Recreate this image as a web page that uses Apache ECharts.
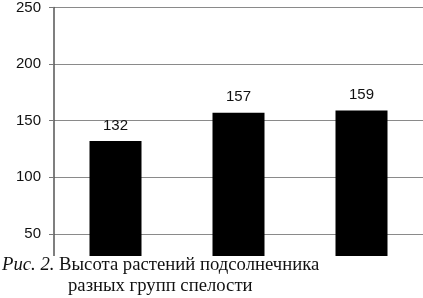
<!DOCTYPE html>
<html>
<head>
<meta charset="utf-8">
<script src="https://cdn.jsdelivr.net/npm/echarts@6/dist/echarts.min.js"></script>
<style>
  html, body { margin: 0; padding: 0; background: #fff; }
  #chart { width: 423px; height: 298px; }
</style>
</head>
<body>
<div id="chart"></div>
<script>
// группы спелости и высота растений
const groups = ["Группа 1", "Группа 2", "Группа 3"];
const heights = [132, 157, 159];
const yTicks = [0, 50, 100, 150, 200, 250];

const chart = echarts.init(document.getElementById("chart"));

chart.setOption({
  animation: false,
  grid: {
    left: 54,
    top: 6,
    width: 377,
    height: 286 // нижняя часть закрыта подписью
  },
  xAxis: {
    type: "category",
    data: groups,
    axisLine: { show: false },
    axisTick: { show: false },
    axisLabel: { show: false }
  },
  yAxis: {
    type: "value",
    min: yTicks[0],
    max: yTicks[yTicks.length - 1],
    interval: 50,
    axisLine: { show: true, lineStyle: { color: "#555", width: 1.5 } },
    axisTick: { show: true, length: 5, lineStyle: { color: "#777" } },
    axisLabel: {
      margin: 13,
      color: "#111",
      fontSize: 15,
      fontFamily: "Liberation Sans, Arial, sans-serif"
    },
    splitLine: { lineStyle: { color: "#8a8a8a", width: 1 } }
  },
  series: [
    {
      type: "bar",
      data: heights,
      barWidth: 52,
      itemStyle: { color: "#000" },
      label: {
        show: true,
        position: "top",
        distance: 8,
        color: "#111",
        fontSize: 15,
        fontFamily: "Liberation Sans, Arial, sans-serif"
      }
    }
  ],
  graphic: [
    {
      type: "rect",
      z: 100,
      shape: { x: 0, y: 256, width: 423, height: 42 },
      style: { fill: "#fff" }
    },
    {
      type: "text",
      z: 101,
      left: 2,
      top: 256,
      style: {
        text: "{i|Рис. 2.} Высота растений подсолнечника",
        fill: "#111",
        font: "18.7px 'Liberation Serif', 'Times New Roman', serif",
        rich: {
          i: {
            fontStyle: "italic",
            fontSize: 18.7,
            fontFamily: "Liberation Serif, Times New Roman, serif",
            fill: "#111"
          }
        }
      }
    },
    {
      type: "text",
      z: 101,
      left: 68,
      top: 277,
      style: {
        text: "разных групп спелости",
        fill: "#111",
        font: "18.7px 'Liberation Serif', 'Times New Roman', serif"
      }
    }
  ]
});
</script>
</body>
</html>
